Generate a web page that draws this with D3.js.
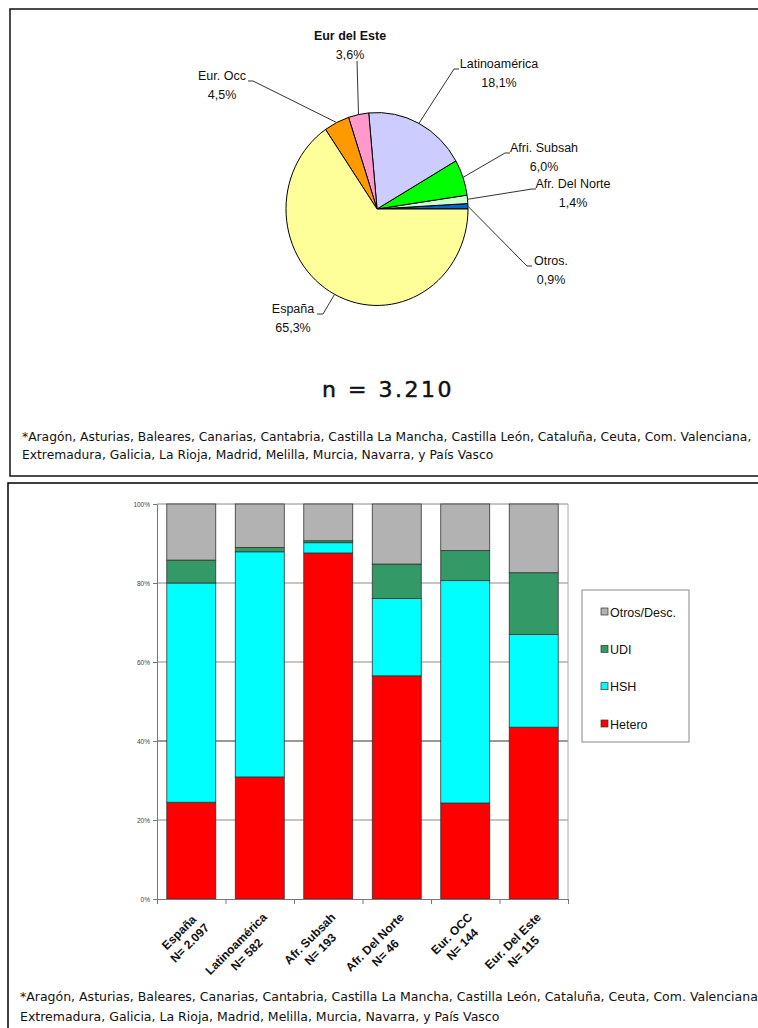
<!DOCTYPE html>
<html>
<head>
<meta charset="utf-8">
<script src="https://cdn.jsdelivr.net/npm/d3@7"></script>
<style>
  html, body { margin: 0; padding: 0; background: #fff; }
  svg { display: block; }
</style>
</head>
<body>
<svg id="chart" width="758" height="1028"></svg>
<script>
// ---- Pie: origin of cases (share, %) ----
const origins = ["Otros.", "Afr. Del Norte", "Afri. Subsah", "Latinoamérica", "Eur del Este", "Eur. Occ", "España"];
const shares = [0.9, 1.4, 6.0, 18.1, 3.6, 4.5, 65.3];
const shareLabels = ["0,9%", "1,4%", "6,0%", "18,1%", "3,6%", "4,5%", "65,3%"];

// ---- Stacked bars: transmission category by origin (%) ----
const groups = ["España", "Latinoamérica", "Afr. Subsah", "Afr. Del Norte", "Eur. OCC", "Eur. Del Este"];
const groupN = ["N= 2.097", "N= 582", "N= 193", "N= 46", "N= 144", "N= 115"];
const hetero = [24.5, 30.9, 87.6, 56.5, 24.3, 43.5];
const hsh    = [55.5, 57.0, 2.6, 19.6, 56.3, 23.5];
const udi    = [5.8, 1.1, 0.5, 8.7, 7.6, 15.6];
const otros  = [14.2, 11.0, 9.3, 15.2, 11.8, 17.4];
const seriesKeys = ["Hetero", "HSH", "UDI", "Otros/Desc."];
const yTicks = [0, 20, 40, 60, 80, 100];

const totalN = "n = 3.210";
const footLines = [
  "*Aragón, Asturias, Baleares, Canarias, Cantabria, Castilla La Mancha, Castilla León, Cataluña, Ceuta, Com. Valenciana,",
  "Extremadura, Galicia, La Rioja, Madrid,  Melilla, Murcia, Navarra, y País Vasco"
];

// ---- styling ----
const pieColors = {
  "Otros.": "#0066CC", "Afr. Del Norte": "#CCFFCC", "Afri. Subsah": "#00FF00",
  "Latinoamérica": "#CCCCFF", "Eur del Este": "#FF99CC", "Eur. Occ": "#FF9900", "España": "#FFFF99"
};
const barColors = { "Hetero": "#FF0000", "HSH": "#00FFFF", "UDI": "#339966", "Otros/Desc.": "#B2B2B2" };

// label placement for the pie (relative to pie centre): text centre / baseline and leader knee/end
const pieLabelLayout = {
  "Otros.":         { tx: 174, ty: 56,   knee: [150, 57],   end: [155, 57] },
  "Afr. Del Norte": { tx: 196, ty: -21,  knee: [155, -20],  end: [159, -20] },
  "Afri. Subsah":   { tx: 167, ty: -57,  knee: [128, -56],  end: [133, -56] },
  "Latinoamérica":  { tx: 122, ty: -141, knee: [77, -140],  end: [82, -140] },
  "Eur del Este":   { tx: -27, ty: -169, knee: [-20, -148], end: [-20, -148], bold: true },
  "Eur. Occ":       { tx: -155, ty: -129, knee: [-124, -128], end: [-129, -128] },
  "España":         { tx: -84, ty: 104,  knee: [-54, 105],  end: [-60, 105] }
};

const svg = d3.select("#chart");
const font = "'Liberation Sans', Arial, sans-serif";
const footFont = "'DejaVu Sans', Verdana, sans-serif";

// ---- panel frames ----
svg.append("rect").attr("x", 10).attr("y", 9).attr("width", 760).attr("height", 467)
  .attr("fill", "none").attr("stroke", "#111").attr("stroke-width", 1.5);
svg.append("rect").attr("x", 8).attr("y", 483).attr("width", 760).attr("height", 560)
  .attr("fill", "none").attr("stroke", "#000").attr("stroke-width", 1.5);

// ---- pie (drawn slightly taller than wide) ----
const cx = 377, cy = 209, r = 91, sy = 1.06;
const pie = d3.pie().sort(null).value(d => d.v)
  .startAngle(Math.PI / 2).endAngle(Math.PI / 2 - 2 * Math.PI);
const pieData = pie(origins.map((o, i) => ({ name: o, v: shares[i], label: shareLabels[i] })));
const arc = d3.arc().innerRadius(0).outerRadius(r);
const pg = svg.append("g").attr("transform", `translate(${cx},${cy})`);

pg.append("g").attr("transform", `scale(1,${sy})`)
  .selectAll("path.slice").data(pieData).join("path")
  .attr("class", "slice")
  .attr("d", arc)
  .attr("fill", d => pieColors[d.data.name])
  .attr("stroke", "#000").attr("stroke-width", 1)
  .attr("vector-effect", "non-scaling-stroke");

// leader lines
pg.selectAll("path.leader").data(pieData).join("path")
  .attr("class", "leader")
  .attr("d", d => {
    const m = (d.startAngle + d.endAngle) / 2;
    const L = pieLabelLayout[d.data.name];
    const p0 = [r * Math.sin(m), -r * Math.cos(m) * sy];
    return d3.line()([p0, L.knee, L.end]);
  })
  .attr("fill", "none").attr("stroke", "#333").attr("stroke-width", 1);

const pl = pg.selectAll("g.plabel").data(pieData).join("g").attr("class", "plabel")
  .attr("transform", d => `translate(${pieLabelLayout[d.data.name].tx},${pieLabelLayout[d.data.name].ty})`)
  .attr("font-family", font).attr("font-size", 12.5).attr("fill", "#111")
  .attr("text-anchor", "middle");
pl.append("text").text(d => d.data.name)
  .attr("font-weight", d => pieLabelLayout[d.data.name].bold ? "bold" : "normal");
pl.append("text").attr("y", 18.5).text(d => d.data.label);

// n = ...
svg.append("text").attr("x", 388).attr("y", 397).attr("text-anchor", "middle")
  .attr("font-family", footFont).attr("font-size", 22).attr("letter-spacing", 2.5)
  .attr("fill", "#111").attr("stroke", "#111").attr("stroke-width", 0.5).text(totalN);

// ---- footnotes (stretched horizontally to the line width) ----
function footnote(x, y0, gap, width, size) {
  const g = svg.append("g").attr("font-family", footFont).attr("font-size", size).attr("fill", "#111");
  const t = footLines.map((s, i) => g.append("text").attr("x", 0).attr("y", i * gap).text(s));
  const natural = t[0].node().getComputedTextLength();
  g.attr("transform", `translate(${x},${y0}) scale(${width / natural},1)`);
}
footnote(22, 441, 18, 730, 12.5);
footnote(20, 1001, 20, 742, 12.5);

// ---- stacked bars ----
const x0 = 157, x1 = 568, yTop = 504, yBot = 899;
const x = d3.scaleBand().domain(groups).range([x0, x1]).paddingInner(0.285).paddingOuter(0.143);
const y = d3.scaleLinear().domain([0, 100]).range([yBot, yTop]);

const table = groups.map((g, i) => ({
  group: g, "Hetero": hetero[i], "HSH": hsh[i], "UDI": udi[i], "Otros/Desc.": otros[i]
}));
const stacked = d3.stack().keys(seriesKeys)(table);

const bg = svg.append("g");
// gridlines
bg.selectAll("line.grid").data(yTicks.filter(v => v > 0)).join("line")
  .attr("class", "grid")
  .attr("x1", x0).attr("x2", x1).attr("y1", d => y(d)).attr("y2", d => y(d))
  .attr("stroke", d => d === 40 ? "#333" : "#8a8a8a").attr("stroke-width", 1);
// right edge of plot area
bg.append("line").attr("x1", x1).attr("x2", x1).attr("y1", yTop).attr("y2", yBot)
  .attr("stroke", "#aaa").attr("stroke-width", 1);

bg.selectAll("g.series").data(stacked).join("g").attr("class", "series")
  .attr("fill", d => barColors[d.key])
  .selectAll("rect").data(d => d).join("rect")
  .attr("x", d => x(d.data.group))
  .attr("width", x.bandwidth())
  .attr("y", d => y(d[1]))
  .attr("height", d => y(d[0]) - y(d[1]))
  .attr("stroke", "#333").attr("stroke-width", 0.8);

// y axis
const yAxis = bg.append("g").attr("transform", `translate(${x0},0)`)
  .call(d3.axisLeft(y).tickValues(yTicks).tickFormat(d => d + "%").tickSizeInner(4).tickSizeOuter(0));
yAxis.selectAll("text").attr("font-family", font).attr("font-size", 6.5).attr("fill", "#444");
yAxis.selectAll("line, path").attr("stroke", "#777");

// x axis with ticks between categories
const xb = d3.scaleLinear().domain([0, groups.length]).range([x0, x1]);
const xAxis = bg.append("g").attr("transform", `translate(0,${yBot})`)
  .call(d3.axisBottom(xb).tickValues(d3.range(groups.length + 1)).tickFormat("").tickSizeInner(5).tickSizeOuter(0));
xAxis.selectAll("line, path").attr("stroke", "#777");

// rotated category labels (block right edge at the anchor, lines centred)
const xl = bg.selectAll("g.xlab").data(groups).join("g").attr("class", "xlab")
  .attr("transform", d => `translate(${x(d) + x.bandwidth() / 2 + 8},${yBot + 19}) rotate(-45)`)
  .attr("font-family", font).attr("font-size", 12).attr("font-weight", "bold").attr("fill", "#111")
  .attr("text-anchor", "middle");
xl.each(function (d, i) {
  const g = d3.select(this);
  const a = g.append("text").text(d);
  const b = g.append("text").attr("y", 15).text(groupN[i]);
  const w = Math.max(a.node().getComputedTextLength(), b.node().getComputedTextLength());
  a.attr("x", -w / 2);
  b.attr("x", -w / 2);
});

// legend
const lg = svg.append("g");
lg.append("rect").attr("x", 582).attr("y", 590).attr("width", 107).attr("height", 152)
  .attr("fill", "#fff").attr("stroke", "#888").attr("stroke-width", 1);
const legendOrder = seriesKeys.slice().reverse();
const ly = d3.scalePoint().domain(legendOrder).range([612, 724]);
const li = lg.selectAll("g.item").data(legendOrder).join("g").attr("class", "item")
  .attr("transform", d => `translate(601,${ly(d)})`);
li.append("rect").attr("x", 0).attr("y", -4).attr("width", 7).attr("height", 7)
  .attr("fill", d => barColors[d]).attr("stroke", "#333").attr("stroke-width", 0.7);
li.append("text").attr("x", 9).attr("y", 4.5).text(d => d)
  .attr("font-family", font).attr("font-size", 12.5).attr("fill", "#111");
</script>
</body>
</html>
